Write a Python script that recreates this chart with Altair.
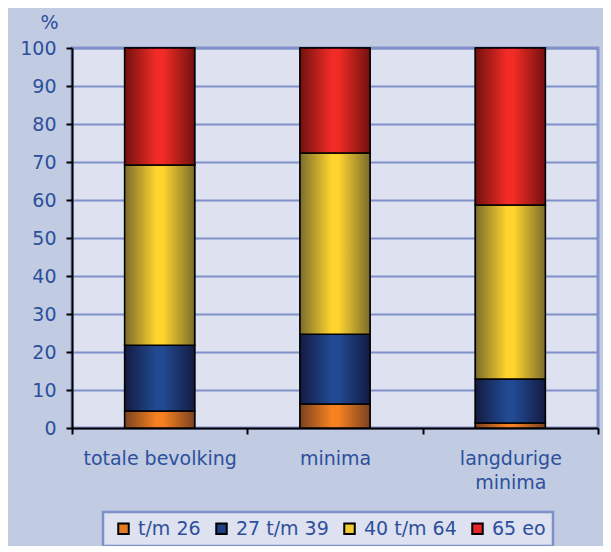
import altair as alt
import pandas as pd

categories = ["totale bevolking", "minima", "langdurige minima"]
groups = ["t/m 26", "27 t/m 39", "40 t/m 64", "65 eo"]
v_tm26 = [4.5, 6.3, 1.3]
v_27_39 = [17.3, 18.4, 11.6]
v_40_64 = [47.4, 47.7, 45.8]
v_65eo = [30.8, 27.6, 41.3]
solid_colors = ["#E57A24", "#1F3F85", "#F2CB2E", "#E8262A"]
grad_colors = [
    ("#7A4220", "#F68121"),
    ("#141B42", "#214A92"),
    ("#7A6C2C", "#FFD42E"),
    ("#72110F", "#F22B26"),
]

rows = []
for gi, (g, vals) in enumerate(zip(groups, [v_tm26, v_27_39, v_40_64, v_65eo])):
    for c, v in zip(categories, vals):
        rows.append({"cat": c, "group": g, "order": gi, "value": v})
df = pd.DataFrame(rows)

TXT = "#2D4F9C"
FONT = "DejaVu Sans"
FS = 19

base = alt.Chart(df).transform_stack(
    stack="value", groupby=["cat"], sort=[alt.SortField("order")], as_=["y0", "y1"]
)

x_enc = alt.X(
    "cat:N",
    sort=categories,
    scale=alt.Scale(paddingInner=0, paddingOuter=0),
    axis=alt.Axis(
        title=None,
        tickBand="extent",
        labelAngle=0,
        labelFontSize=FS,
        labelColor=TXT,
        labelFont=FONT,
        labelPadding=15,
        labelLineHeight=24,
        labelBaseline="top",
        labelExpr="datum.label == 'langdurige minima' ? ['langdurige', 'minima'] : datum.label",
        tickColor="black",
        tickSize=6,
        tickWidth=2,
        domainColor="black",
        domainWidth=2,
        grid=False,
    ),
)
y_enc = alt.Y(
    "y0:Q",
    scale=alt.Scale(domain=[0, 100], nice=False),
    axis=alt.Axis(
        values=list(range(0, 101, 10)),
        title="%",
        titleAngle=0,
        titleX=-14,
        titleY=-16,
        titleAlign="right",
        titleFontSize=FS,
        titleFontWeight="normal",
        titleColor=TXT,
        titleFont=FONT,
        labelFontSize=FS,
        labelColor=TXT,
        labelFont=FONT,
        labelPadding=10,
        tickColor="black",
        tickSize=6,
        tickWidth=2,
        domainColor="black",
        domainWidth=2,
        gridColor="#8090C8",
        gridWidth=2,
    ),
)

legend_layer = base.mark_bar(size=70, stroke="black", strokeWidth=1.5).encode(
    x=x_enc,
    y=y_enc,
    y2="y1:Q",
    color=alt.Color(
        "group:N",
        sort=groups,
        scale=alt.Scale(domain=groups, range=solid_colors),
        legend=alt.Legend(
            title=" ",
            titleOrient="left",
            titleFontSize=FS,
            titlePadding=4,
            orient="none",
            legendX=31,
            legendY=464,
            direction="horizontal",
            columns=4,
            columnPadding=11,
            padding=7,
            fillColor="#DDE1F0",
            strokeColor="#8090C8",
            symbolType="square",
            symbolSize=110,
            symbolStrokeColor="black",
            symbolStrokeWidth=2,
            symbolOpacity=1,
            labelFontSize=FS,
            labelColor=TXT,
            labelFont=FONT,
            labelOffset=5,
        ),
    ),
)

layers = [legend_layer]
for g, (dark, bright) in zip(groups, grad_colors):
    grad = alt.LinearGradient(
        gradient="linear",
        stops=[
            alt.GradientStop(color=dark, offset=0),
            alt.GradientStop(color=bright, offset=0.45),
            alt.GradientStop(color=bright, offset=0.55),
            alt.GradientStop(color=dark, offset=1),
        ],
        x1=0, x2=1, y1=0, y2=0,
    )
    layers.append(
        base.transform_filter(alt.datum.group == g)
        .mark_bar(size=70, fill=grad, stroke="black", strokeWidth=1.5)
        .encode(x=x_enc, y=y_enc, y2="y1:Q")
    )

chart = (
    alt.layer(*layers)
    .properties(
        width=526,
        height=380,
        autosize=alt.AutoSizeParams(type="none"),
        padding={"left": 64, "top": 40, "right": 5, "bottom": 118},
        background="#C1CCE3",
    )
    .configure_view(fill="#DDE1F0", stroke="#8494CB", strokeWidth=3)
    .configure_legend(strokeWidth=2.5)
)

chart.save("out.html", embed_options={"renderer": "svg", "actions": False})
